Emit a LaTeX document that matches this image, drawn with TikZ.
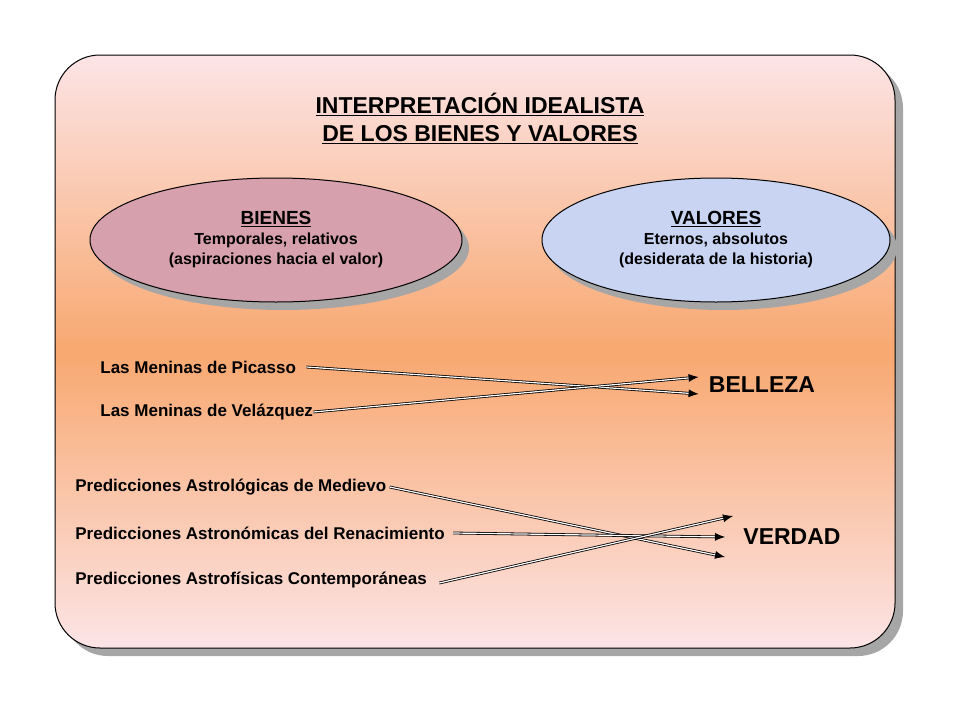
\documentclass[tikz,border=0pt]{standalone}
\usepackage{fontspec}
\setmainfont{Liberation Sans}
\usetikzlibrary{arrows.meta,shapes.geometric}
\definecolor{pinkbg}{RGB}{252,228,230}
\definecolor{orangebg}{RGB}{248,168,112}
\definecolor{mauve}{RGB}{214,160,172}
\definecolor{lightblue}{RGB}{200,212,242}

\begin{document}
\begin{tikzpicture}[x=1pt, y=-1pt, thick,
        frame/.style={draw, line width=1pt, rounded corners=45pt},
        blob/.style={ellipse, draw, line width=1pt, minimum width=#1, minimum height=124pt},
        item/.style={anchor=west, font=\fontsize{17}{20}\selectfont\bfseries, inner sep=0pt},
        goal/.style={font=\fontsize{23}{26}\selectfont\bfseries, inner sep=0pt},
        link/.style={double=white, double distance=1.2pt, line width=0.8pt, -{Latex[length=10pt,width=8pt]}}]

    \useasboundingbox (0,0) rectangle (960,720);

    % Marco
    \fill[gray!70, rounded corners=45pt] (63,63) rectangle (903,656);
    \shade[frame, top color=pinkbg, bottom color=pinkbg, middle color=orangebg] (55,55) rectangle (895,648);

    % Titulo
    \node[font=\fontsize{23}{28}\selectfont\bfseries, align=center] (titulo) at (480,118)
        {\underline{INTERPRETACIÓN IDEALISTA}\\\underline{DE LOS BIENES Y VALORES}};

    % Elipses
    \fill[gray!70] (283,248) ellipse (186pt and 62pt);
    \fill[gray!70] (723,248) ellipse (174pt and 62pt);
    \node[blob=372pt, fill=mauve] (bienes) at (276,240) {};
    \node[blob=348pt, fill=lightblue] (valores) at (716,240) {};
    \node[font=\fontsize{16}{20}\selectfont\bfseries, align=center] at (bienes)
        {\fontsize{19}{22}\selectfont\underline{BIENES}\\Temporales, relativos\\(aspiraciones hacia el valor)};
    \node[font=\fontsize{16}{20}\selectfont\bfseries, align=center] at (valores)
        {\fontsize{19}{22}\selectfont\underline{VALORES}\\Eternos, absolutos\\(desiderata de la historia)};

    % Ejemplos
    \node[item] (picasso) at (100,367) {Las Meninas de Picasso};
    \node[item] (velazquez) at (100,412) {Las Meninas de Velázquez};
    \node[item] (medievo) at (75,487) {Predicciones Astrológicas de Medievo};
    \node[item] (renac) at (75,533) {Predicciones Astronómicas del Renacimiento};
    \node[item] (contemp) at (75,580) {Predicciones Astrofísicas Contemporáneas};

    \node[goal] (belleza) at (762,385) {BELLEZA};
    \node[goal] (verdad) at (792,537) {VERDAD};

    % Flechas
    \draw[link] ([xshift=10pt]picasso.east) -- ([xshift=-10pt,yshift=-9pt]belleza.west);
    \draw[link] (velazquez.east) -- ([xshift=-10pt,yshift=8pt]belleza.west);
    \draw[link] ([xshift=3pt]medievo.east) -- ([xshift=-18pt,yshift=-20pt]verdad.west);
    \draw[link] ([xshift=8pt]renac.east) -- ([xshift=-18pt]verdad.west);
    \draw[link] ([xshift=12pt,yshift=-3pt]contemp.east) -- ([xshift=-10pt,yshift=21pt]verdad.west);
\end{tikzpicture}
\end{document}
